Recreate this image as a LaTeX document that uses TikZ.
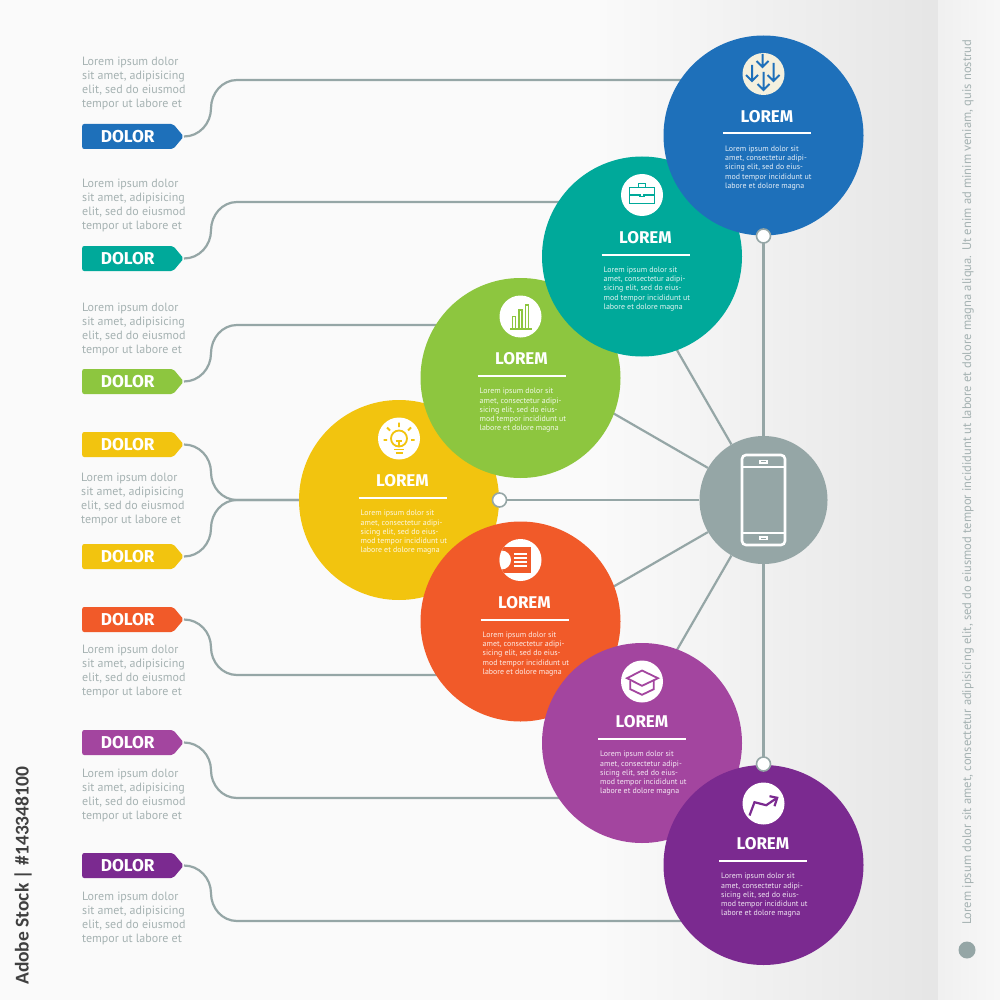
\documentclass[tikz,border=0pt]{standalone}
\usepackage{fontspec}
\setmainfont{PT Sans}
\newfontfamily\headfont{Fira Sans}
\newfontfamily\stockfont{Carlito}
\usetikzlibrary{positioning}
\usetikzlibrary{shapes.symbols}
\definecolor{cblue}{HTML}{1E70BA}
\definecolor{cteal}{HTML}{00A99A}
\definecolor{cgreen}{HTML}{8DC63F}
\definecolor{cyellow}{HTML}{F2C40F}
\definecolor{corange}{HTML}{F15A29}
\definecolor{cpurple}{HTML}{A3459F}
\definecolor{cdark}{HTML}{7B2A90}
\definecolor{chub}{HTML}{95A6A6}
\definecolor{ctext}{HTML}{A5B2B2}
\definecolor{ccream}{HTML}{F4F0DE}
\tikzset{
  wire/.style={chub, line width=2.2pt},
  tagbox/.style={shape=signal, signal to=east, signal pointer angle=100, text width=91pt, align=center,
    minimum height=25pt, inner xsep=0pt, inner ysep=0pt, rounded corners=2pt, text=white, font=\headfont\fontsize{17.2}{17.2}\selectfont\bfseries},
  blurb/.style={text=ctext, anchor=west, align=left, inner sep=0pt, font=\fontsize{12}{14}\selectfont},
  bubble/.style={circle, minimum size=200pt, inner sep=0pt},
  head/.style={text=white, font=\headfont\fontsize{17}{17}\selectfont\bfseries, inner sep=0pt},
  small/.style={text=white, text opacity=0.88, anchor=north west, align=left, inner sep=0pt, font=\fontsize{7.9}{9.25}\selectfont},
  knob/.style={circle, draw=chub, fill=white, line width=1.6pt, minimum size=14pt, inner sep=0pt},
  badge/.style={circle, fill=white, minimum size=42pt, inner sep=0pt}
}
\begin{document}
\begin{tikzpicture}[x=1pt, y=-1pt]
    % backdrop
    \useasboundingbox (0,0) rectangle (1000,1000);
    \fill[white!98!black] (0,0) rectangle (600,1000);
    \shade[left color=white!98!black, right color=black!10] (600,0) rectangle (938,1000);
    \shade[left color=black!6, right color=black!3] (938,0) rectangle (1000,1000);

    % bubbles are placed first so the wires can refer to them
    \path (763.5,135.5) coordinate (blue) (642,256.5) coordinate (teal) (520.5,378) coordinate (green)
      (399,500) coordinate (yellow) (520.5,621.5) coordinate (orange) (642,743) coordinate (purple)
      (763.5,865) coordinate (dark);
    \node[circle, fill=chub, minimum size=128pt, inner sep=0pt] (hub) at (763.5,500) {};

    % tags and wires
    \foreach \id/\col/\y/\yy/\dest/\ia in {1/cblue/136.5/80/blue/90, 2/cteal/258.5/202/teal/90, 3/cgreen/381.5/325/green/90, 4/cyellow/444.5/500/yellow/-90,
        5/cyellow/556.5/500/yellow/90, 6/corange/619.5/675/orange/-90, 7/cpurple/742.5/798/purple/-90, 8/cdark/865.5/921/dark/-90}
    {
        \node[tagbox, fill=\col, anchor=west] (tag\id) at (82,\y) {DOLOR};
        \coordinate (bend\id) at (237,\yy);
        \coordinate (mid\id) at (211,{(\y+\yy)/2});
        \draw[wire] (tag\id.east) to[out=0, in=-\ia] (mid\id)
            to[out=\ia, in=180] (bend\id) -- (bend\id -| \dest);
    }

    % left texts
    \foreach \id/\x/\y in {1/82/83, 2/82/205, 3/82/329, 4/81/499, 5/82/671, 6/82/795, 7/82/918}
        \node[blurb] (blurb\id) at (\x,\y) {Lorem ipsum dolor\\sit amet, adipisicing\\elit, sed do eiusmod\\tempor ut labore et};

    % hub spokes
    \foreach \id/\a in {1/60, 2/30, 3/-30, 4/-60}
        \coordinate (spoke\id) at ({763.5-190*cos(\a)},{500-190*sin(\a)});
    \draw[wire] (hub) -- (spoke1);
    \draw[wire] (hub) -- (spoke2);
    \draw[wire] (hub) -- (spoke3);
    \draw[wire] (hub) -- (spoke4);
    \draw[wire] (hub) -- (blue);
    \draw[wire] (hub) -- (dark);
    \draw[wire] (hub) -- (yellow);

    % bubbles in stacking order
    \foreach \id/\col/\dx/\dy/\bg in {yellow/cyellow/3.5/0/white, green/cgreen/1/0/white, orange/corange/4/0/white, teal/cteal/3.5/0/white,
        purple/cpurple/0/2/white, blue/cblue/3.5/0/ccream, dark/cdark/-0.5/2/white}
    {
        \node[bubble, fill=\col] (\id-b) at (\id) {};
        \node[badge, fill=\bg] (\id-i) at ([yshift=61.5pt]\id) {};
        \node[head] (\id-h) at ([xshift=\dx pt, yshift=19pt+\dy pt]\id) {LOREM};
        \coordinate (\id-l) at ([xshift=-44pt+\dx pt, yshift=2pt+\dy pt]\id);
        \coordinate (\id-r) at ([xshift=44pt+\dx pt, yshift=2pt+\dy pt]\id);
        \draw[white, line width=2pt] (\id-l) -- (\id-r);
        \node[small] (\id-t) at ([xshift=-42pt+\dx pt, yshift=-10pt+\dy pt]\id) {Lorem ipsum dolor sit\\amet, consectetur adipi-\\sicing elit, sed do eius-\\mod tempor incididunt ut\\labore et dolore magna};
    }

    \node[knob] (knob1) at (763.5,236) {};
    \node[knob] (knob2) at (763.5,764) {};
    \node[knob] (knob3) at (499.5,500) {};

    % phone
    \begin{scope}[shift={(hub)}, white, line width=2.6pt, rounded corners=4pt]
        \draw (-21.5,-45) rectangle (21.5,45);
        \draw[sharp corners, line width=2pt] (-21.5,-33) -- (21.5,-33) (-21.5,33) -- (21.5,33);
        \draw[sharp corners, line width=1.6pt] (-3.5,-39.5) rectangle (3.5,-37) (-3.5,37) rectangle (3.5,39.5);
    \end{scope}

    % icon: arrows
    \begin{scope}[shift={(blue-i)}, cblue, line width=2pt]
        \foreach \x/\a/\b in {-1/-20/-7, -11.5/-9/7, 10/-11/7, 0/-2/16}
            \draw (\x,\a) -- (\x,\b) (\x-6,\b-6) -- (\x,\b) -- (\x+6,\b-6);
    \end{scope}
    % icon: briefcase
    \begin{scope}[shift={(teal-i)}, cteal, line width=1.7pt]
        \draw (-12.5,-7.5) rectangle (12.5,8.5);
        \draw (-3.5,-7.5) rectangle (3.5,-11.5);
        \draw (-12.5,0) -- (-2,0) -- (-2,1.5) -- (2,1.5) -- (2,0) -- (12.5,0);
    \end{scope}
    % icon: bars
    \begin{scope}[shift={(green-i)}, cgreen, line width=1.6pt]
        \draw (-10.5,12.5) -- (11,12.5);
        \draw (-8,12) rectangle (-5,0);
        \draw (-1.5,12) rectangle (1.5,-6.5);
        \draw (5,12) rectangle (8,-11.5);
    \end{scope}
    % icon: bulb
    \begin{scope}[shift={(yellow-i)}, cyellow, line width=1.8pt]
        \draw (0,0) circle (8);
        \draw (-3.3,2.3) -- (3.3,2.3) (0,2.3) -- (0,8);
        \draw (-5,11) -- (5,11) (-3.5,14.5) -- (3.5,14.5);
        \draw (0,-16) -- (0,-11.5) (-12,-11) -- (-9,-8) (12,-11) -- (9,-8) (-15.5,1.5) -- (-12,1.5) (15.5,1.5) -- (12,1.5);
    \end{scope}
    % icon: document
    \begin{scope}[shift={(orange-i)}]
        \clip (0,0) circle (21);
        \fill[corange] (-23,-13) rectangle (10,13);
        \fill[white] (-19,0) circle (9.5);
        \draw[white, line width=1.8pt] (-6.5,-6) -- (6,-6) (-6.5,-2) -- (6,-2) (-6.5,2) -- (6,2) (-6.5,6) -- (6,6);
    \end{scope}
    % icon: cap
    \begin{scope}[shift={(purple-i)}, cpurple, line width=1.8pt]
        \draw (-15,-3.3) -- (0,-11) -- (16,-3.3) -- (0,4.3) -- cycle;
        \draw (-11.7,-1) -- (-11.7,7.7) -- (0,13.3) -- (11.7,7.7) -- (11.7,-1);
    \end{scope}
    % icon: trend
    \begin{scope}[shift={(dark-i)}, cdark, line width=2.2pt]
        \draw (-14,12) -- (-9,-1.3) -- (2.7,1.7) -- (13.7,-5.7);
        \draw (6,-7.3) -- (13.7,-5.7) -- (11,2.7);
    \end{scope}

    % side texts
    \node[rotate=90, anchor=west, inner sep=0pt, text=ctext, font=\fontsize{12.55}{14}\selectfont] (side) at (968,925)
        {Lorem ipsum dolor sit amet, consectetur adipisicing elit, sed do eiusmod tempor incididunt ut labore et dolore magna aliqua. Ut enim ad minim veniam, quis nostrud};
    \node[circle, fill=chub, minimum size=17pt, inner sep=0pt] (dot) at (967,950) {};
    \node[rotate=90, anchor=west, inner sep=0pt, text=black!75, font=\stockfont\fontsize{19.5}{19.5}\selectfont\bfseries] (stock) at (23,985) {Adobe Stock | \#143348100};
\end{tikzpicture}
\end{document}
